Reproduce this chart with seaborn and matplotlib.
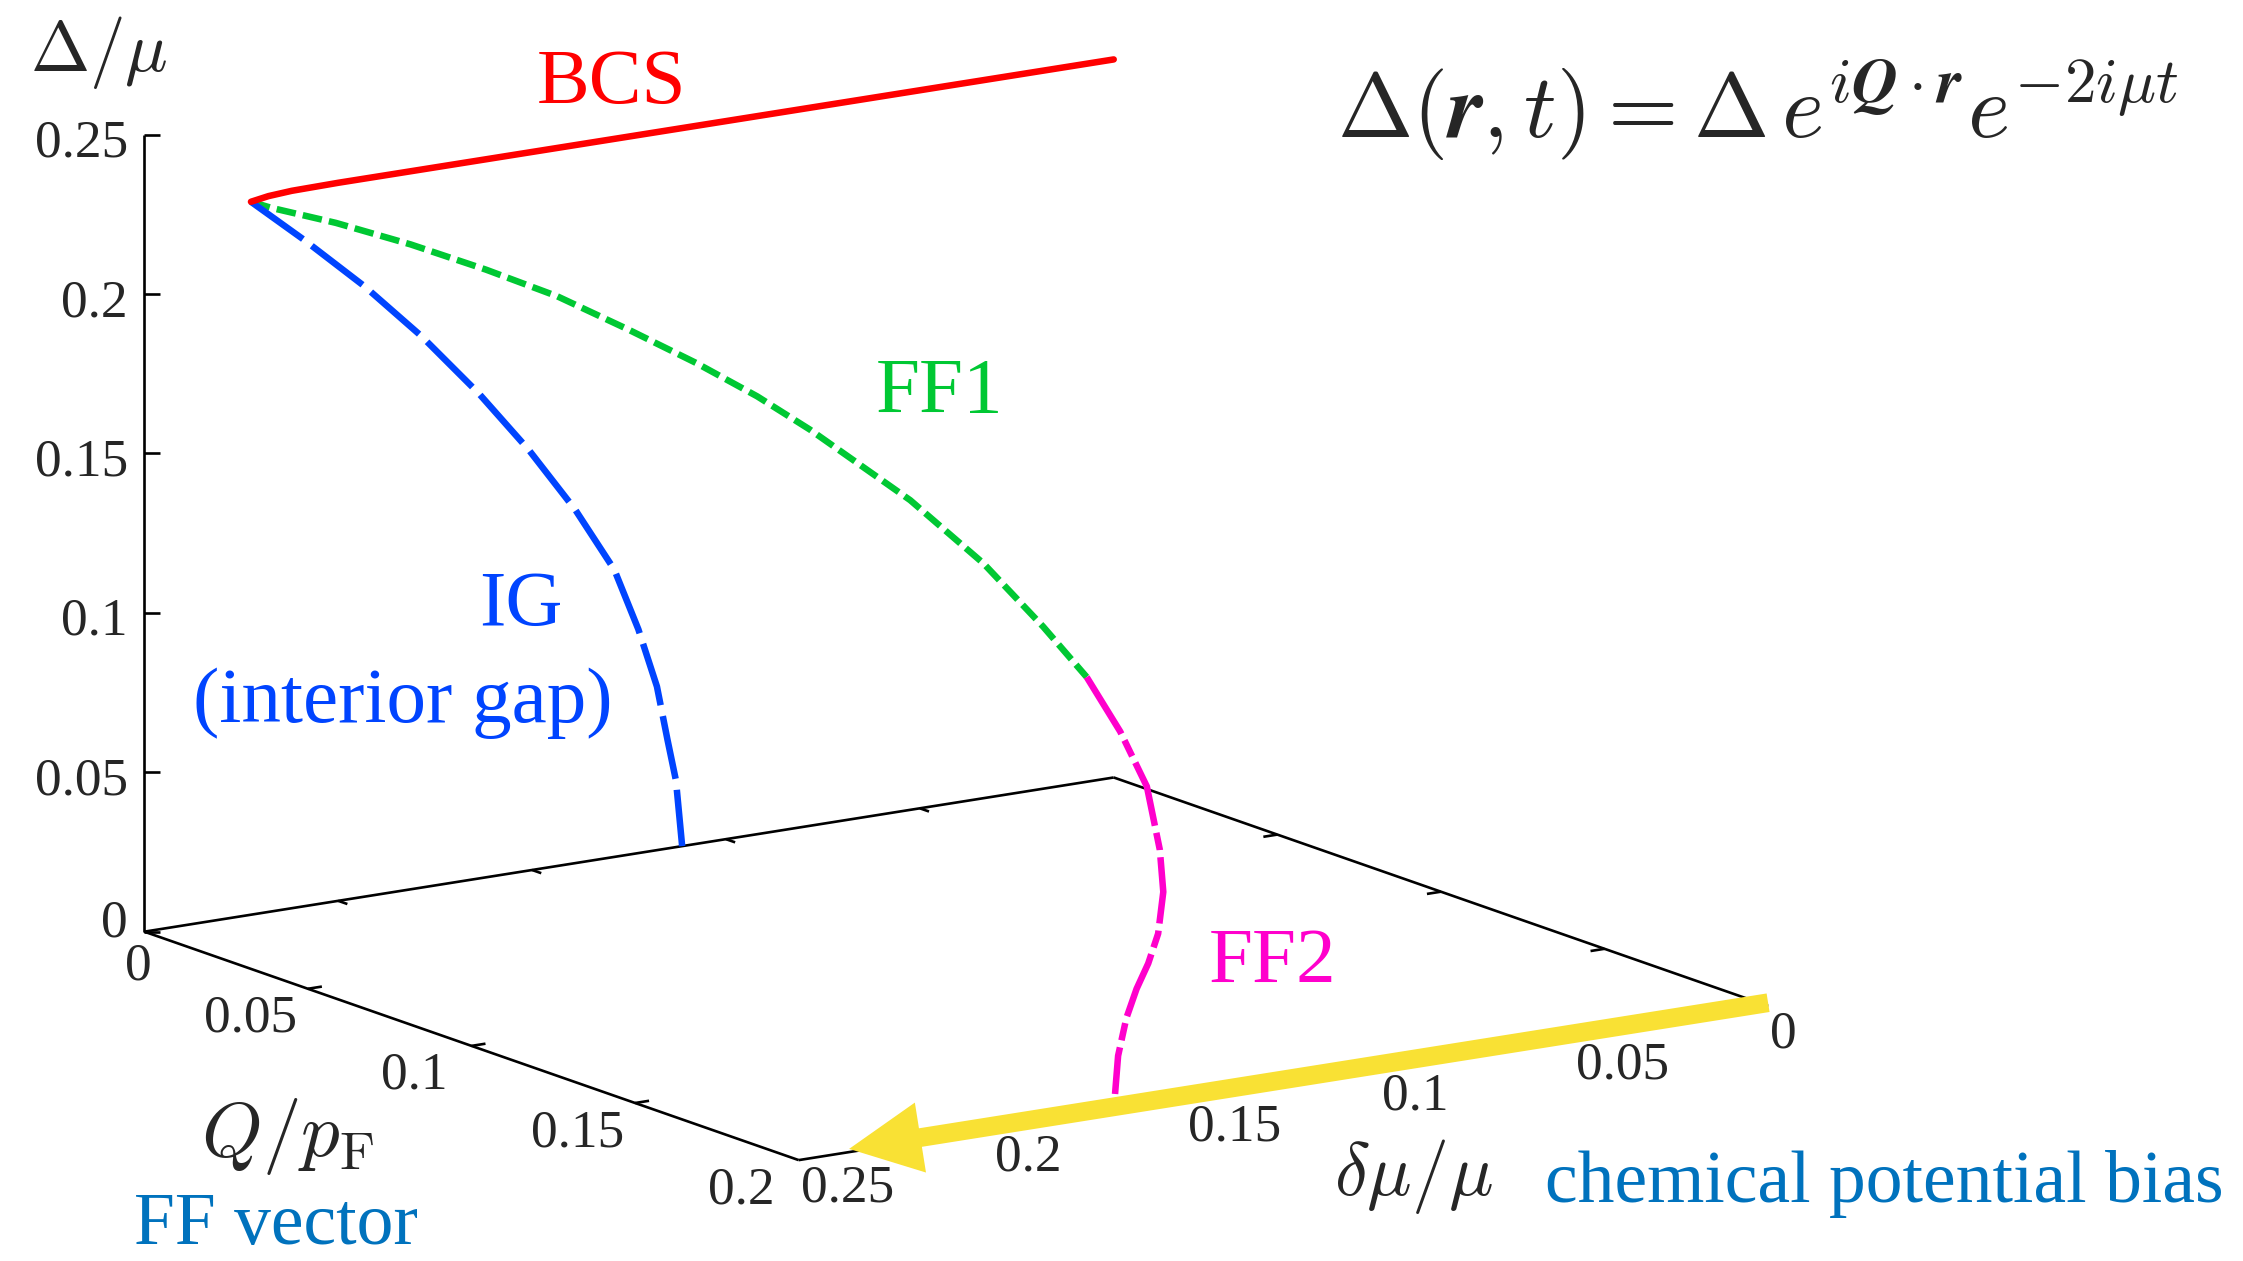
import numpy as np
import matplotlib
matplotlib.use("Agg")
import matplotlib.pyplot as plt
import seaborn as sns
from matplotlib.patches import FancyArrowPatch, ArrowStyle
from matplotlib.mathtext import MathTextParser

# ---------------- data ----------------
# x = delta mu / mu, y = Q / p_F, z = Delta / mu
bcs_dmu = [0.0, 0.05, 0.10, 0.15, 0.20, 0.212, 0.218, 0.2225]
bcs_gap = [0.2252, 0.2252, 0.2252, 0.2252, 0.2252, 0.2250, 0.2245, 0.2236]

ig_dmu = [0.2225, 0.2089, 0.1932, 0.1785, 0.1638, 0.1509, 0.1389, 0.1288,
          0.1226, 0.1178, 0.1151, 0.1129, 0.1113]
ig_gap = [0.2236, 0.2091, 0.1914, 0.1729, 0.1522, 0.1320, 0.1109, 0.0901,
          0.0702, 0.0513, 0.0342, 0.0209, 0.0]

ff1_dmu = [0.2225, 0.2210, 0.2164, 0.2110, 0.2056, 0.2005, 0.1954, 0.1905,
           0.1861, 0.1823, 0.1751, 0.1699, 0.1656, 0.1624]
ff1_q = [0.0, 0.0045, 0.0187, 0.0352, 0.0518, 0.0675, 0.0832, 0.0982,
         0.1116, 0.1232, 0.1453, 0.1615, 0.1747, 0.1842]
ff1_gap = [0.2236, 0.2230, 0.2225, 0.2206, 0.2176, 0.2139, 0.2081, 0.2020,
           0.1955, 0.1885, 0.1729, 0.1579, 0.1419, 0.1289]

ff2_dmu = [0.1624, 0.1600, 0.1581, 0.1572, 0.1569, 0.1573, 0.1580, 0.1589,
           0.1596, 0.1602, 0.1604]
ff2_q = [0.1842, 0.1916, 0.1975, 0.2004, 0.2011, 0.2000, 0.1978, 0.1953,
         0.1930, 0.1912, 0.1905]
ff2_gap = [0.1289, 0.1140, 0.0985, 0.0795, 0.0665, 0.0531, 0.0431, 0.0344,
           0.0245, 0.0122, 0.0]

dmu_ticks = [0.0, 0.05, 0.10, 0.15, 0.20, 0.25]
dmu_labels = ['0', '0.05', '0.1', '0.15', '0.2', '0.25']
q_ticks = [0.0, 0.05, 0.10, 0.15, 0.20]
q_labels = ['0', '0.05', '0.1', '0.15', '0.2']
gap_ticks = [0.0, 0.05, 0.10, 0.15, 0.20, 0.25]
gap_labels = ['0', '0.05', '0.1', '0.15', '0.2', '0.25']

arrow_dmu = [0.0, 0.237]      # chemical potential bias arrow (at Q = 0.2)

# ---------------- style ----------------
sns.set_theme(style="white")
plt.rcParams['font.family'] = ['Liberation Serif', 'DejaVu Serif']
plt.rcParams['mathtext.fontset'] = 'cm'

C_RED, C_BLUE, C_GREEN, C_MAG = '#ff0000', '#0044ff', '#00c833', '#ff00cc'
C_YEL, C_TXT = '#f9e134', '#0072bd'

W, H = 2243, 1261
S = W / 1568.0

fig = plt.figure(figsize=(W / 100, H / 100), dpi=100)
fig.patch.set_facecolor('white')
ax = fig.add_axes([0, 0, 1, 1], projection='3d')
ax.set_proj_type('ortho')
ax.view_init(elev=13.63, azim=55.98)
ax.set_box_aspect((1.0, 1.0, 0.7013))
ax.set_xlim(0, 0.25)
ax.set_ylim(0, 0.2)
ax.set_zlim(0, 0.25)
ax.set_axis_off()
ax.computed_zorder = False


def proj_disp(x, y, z):
    x = np.atleast_1d(np.asarray(x, float))
    y = np.atleast_1d(np.asarray(y, float)) * np.ones_like(x)
    z = np.atleast_1d(np.asarray(z, float)) * np.ones_like(x)
    M = ax.get_proj()
    v = M @ np.vstack([x, y, z, np.ones_like(x)])
    X, Y = v[0] / v[3], v[1] / v[3]
    return ax.transData.transform(np.column_stack([X, Y]))


def proj_img(x, y, z):
    d = proj_disp(x, y, z)
    return d[:, 0], H - d[:, 1]


# ---- place the 3D box so the floor corners land where they are in the reference
fig.canvas.draw()
A_t = np.array([100.9 * S, H - 651.3 * S])   # (dmu=.25, Q=0, gap=0) display coords
B_t = np.array([1236.0 * S, H - 703.3 * S])  # (dmu=0, Q=.2, gap=0)
pos = ax.get_position()
side0 = pos.width * W
c0 = np.array([(pos.x0 + pos.width / 2) * W, (pos.y0 + pos.height / 2) * H])
pa = proj_disp(0.25, 0, 0)[0]
pb = proj_disp(0, 0.2, 0)[0]
k = np.linalg.norm(B_t - A_t) / np.linalg.norm(pb - pa)
side1 = side0 * k
c1 = A_t - side1 * (pa - c0) / side0
ax.set_position([(c1[0] - side1 / 2) / W, (c1[1] - side1 / 2) / H, side1 / W, side1 / H])
fig.canvas.draw()

# ---------------- box, ticks ----------------
BLK = dict(color='black', lw=1.9, zorder=1, solid_capstyle='butt')
ax.plot([0.25, 0.25], [0, 0], [0, 0.25], **BLK)           # gap axis
ax.plot([0.25, 0.0], [0, 0], [0, 0], **BLK)               # back edge Q=0
ax.plot([0.0, 0.0], [0, 0.2], [0, 0], **BLK)              # back edge dmu=0
ax.plot([0.25, 0.25], [0, 0.2], [0, 0], **BLK)            # Q axis
ax.plot([0.25, 0.0], [0.2, 0.2], [0, 0], **BLK)           # dmu axis
for d in dmu_ticks[1:-1]:
    ax.plot([d, d], [0, 0.0028], [0, 0], **BLK)
    ax.plot([d, d], [0.2, 0.2 - 0.0028], [0, 0], **BLK)
for q in q_ticks[1:-1]:
    ax.plot([0.25, 0.25 - 0.0036], [q, q], [0, 0], **BLK)
    ax.plot([0.0, 0.0036], [q, q], [0, 0], **BLK)

# ---------------- curves ----------------
LW = 4.7
ax.plot(ff1_dmu, ff1_q, ff1_gap, color=C_GREEN, lw=LW, ls=(0, (3.0, 1.1)), zorder=3)
ax.plot(ff2_dmu, ff2_q, ff2_gap, color=C_MAG, lw=LW, ls=(0, (10.2, 1.1, 2.7, 1.1)), zorder=3)
ax.plot(ig_dmu, np.zeros(len(ig_dmu)), ig_gap, color=C_BLUE, lw=LW, ls=(0, (9.8, 1.7)), zorder=4)
ax.plot(bcs_dmu, np.zeros(len(bcs_dmu)), bcs_gap, color=C_RED, lw=LW, ls='-', zorder=5,
        solid_capstyle='round')

# ---------------- overlay for 2D annotations (image pixel coords) ----------------
ov = fig.add_axes([0, 0, 1, 1])
ov.set_xlim(0, W)
ov.set_ylim(H, 0)
ov.set_axis_off()
ov.patch.set_visible(False)
renderer = fig.canvas.get_renderer()

TICK_FS = 38.4
half_digit = 0.338 * TICK_FS * 100 / 72

# gap-axis ticks and labels
gx, gy = proj_img(np.full(len(gap_ticks), 0.25), np.zeros(len(gap_ticks)), gap_ticks)
for x, y, lab in zip(gx, gy, gap_labels):
    ov.plot([x, x + 16], [y, y], color='black', lw=1.9, solid_capstyle='butt')
    cy = y - 13 if lab == '0' else y + 4
    ov.text(x - 16.5, cy + half_digit, lab, fontsize=TICK_FS, ha='right', va='baseline')

# Q-axis labels
qx, qy = proj_img(np.full(len(q_ticks), 0.25), q_ticks, np.zeros(len(q_ticks)))
for x, y, lab in zip(qx, qy, q_labels):
    if lab == '0':
        ox, oy = -6.4, 30
    else:
        ox, oy = -57.2, 25
    ov.text(x + ox, y + oy + half_digit, lab, fontsize=TICK_FS, ha='center', va='baseline')

# dmu-axis labels
dx, dy = proj_img(dmu_ticks, np.full(len(dmu_ticks), 0.2), np.zeros(len(dmu_ticks)))
for x, y, lab in zip(dx, dy, dmu_labels):
    ov.text(x + 2, y + 23.7 + half_digit, lab, fontsize=TICK_FS, ha='left', va='baseline')

# yellow arrow along the dmu axis
axx, axy = proj_img(arrow_dmu, [0.2, 0.2], [0.001, 0.001])
arr = FancyArrowPatch((axx[0], axy[0]), (axx[1], axy[1]),
                      arrowstyle=ArrowStyle('simple', head_length=52, head_width=51, tail_width=13.5),
                      mutation_scale=1, color=C_YEL, lw=0, shrinkA=0, shrinkB=0, zorder=6)
ov.add_patch(arr)


def math_ok(s):
    try:
        MathTextParser('path').parse(s)
        return True
    except Exception:
        return False


bf = r'\mathbfit' if math_ok(r'$\mathbfit{r}$') else r'\mathbf'


def place(x, y, s, fs, target_w=None, **kw):
    t = ov.text(x, y, s, fontsize=fs, va='baseline', **kw)
    if target_w is not None:
        bb = t.get_window_extent(renderer)
        t.set_fontsize(fs * target_w / bb.width)
    return t


# axis labels
place(30, 70.7, r'$\Delta/\mu$', 44, 138, ha='left')
place(201, 1156, r'$Q/p_{\mathrm{F}}$', 44, 174, ha='left')
place(1334, 1195, r'$\delta\mu/\mu$', 44, 160, ha='left')

# formula
formula = (r'$\Delta(' + bf + r'{r},t) = \Delta\,e^{i' + bf + r'{Q}\cdot' + bf +
           r'{r}}e^{-2i\mu t}$')
place(1337, 138.3, formula, 60, 842, ha='left')

# branch labels
place(536.4, 103, 'BCS', 57, color=C_RED, ha='left')
place(875.5, 412, 'FF1', 57, color=C_GREEN, ha='left')
place(520.7, 625, 'IG', 57, color=C_BLUE, ha='center')
place(402.7, 722.4, '(interior gap)', 57, color=C_BLUE, ha='center')
place(1208.5, 981.7, 'FF2', 57, color=C_MAG, ha='left')
place(134.4, 1244, 'FF vector', 53, color=C_TXT, ha='left')
place(1545, 1201.7, 'chemical potential bias', 53, color=C_TXT, ha='left')

fig.savefig('out.png', dpi=100, facecolor='white')
